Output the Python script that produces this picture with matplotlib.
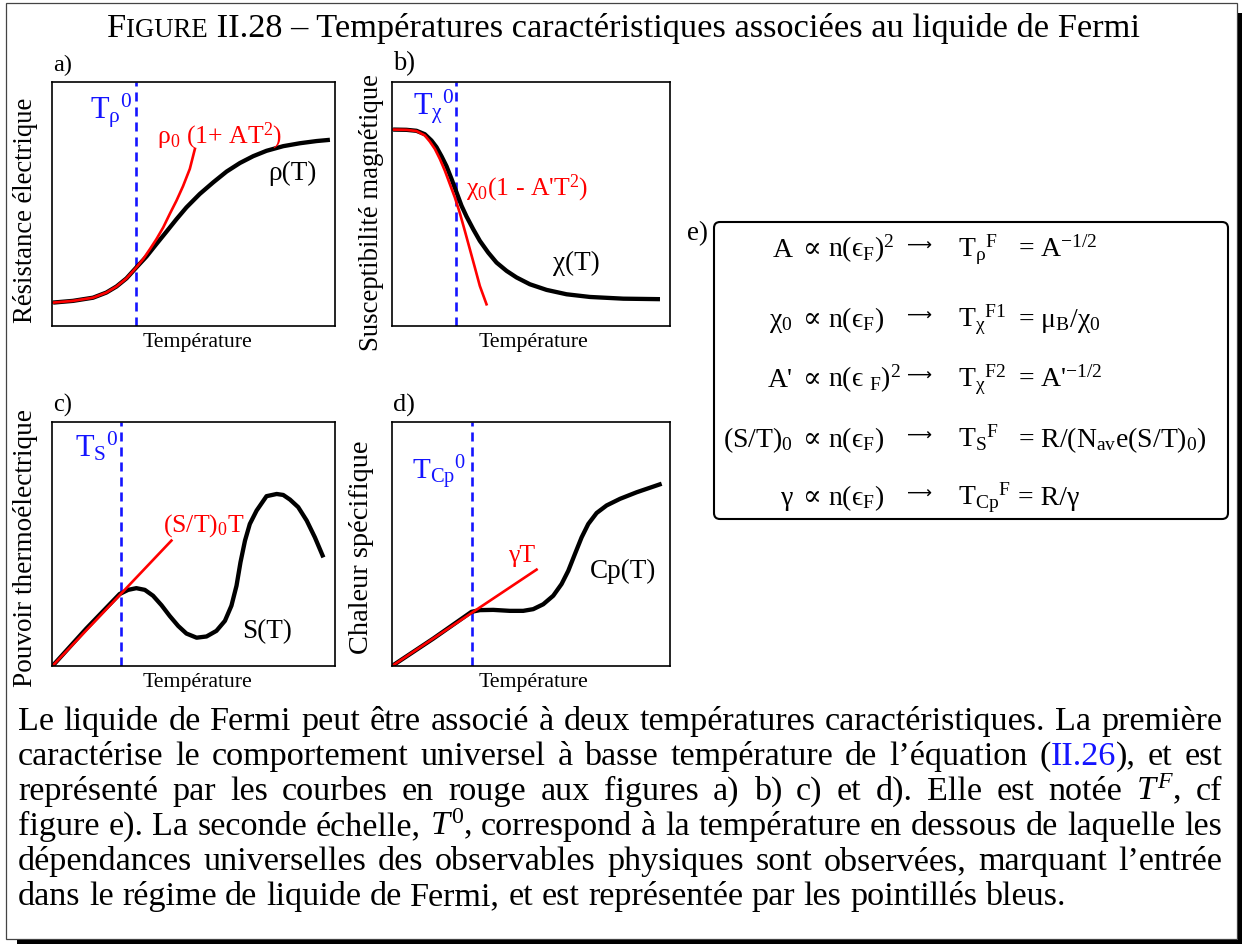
import matplotlib
matplotlib.use("Agg")
import matplotlib.pyplot as plt
import matplotlib.patches as mpatches
import matplotlib.transforms as mtransforms

plt.rcParams['font.family'] = ['Liberation Serif', 'DejaVu Serif']
plt.rcParams['mathtext.fontset'] = 'custom'
plt.rcParams['mathtext.rm'] = 'Liberation Serif'
plt.rcParams['mathtext.it'] = 'Liberation Serif:italic'
plt.rcParams['mathtext.bf'] = 'Liberation Serif:bold'
plt.rcParams['mathtext.default'] = 'rm'
plt.rcParams['lines.scale_dashes'] = False

W, H = 1242, 945

# a) resistance
rho_T = [0.04, 0.74, 1.45, 1.92, 2.28, 2.63, 2.98, 3.34, 3.69, 4.04, 4.40, 4.75, 5.22, 5.70, 6.17, 6.64,
         7.11, 7.58, 8.17, 8.76, 9.35, 9.82]
rho_val = [0.96, 1.03, 1.16, 1.37, 1.62, 1.95, 2.40, 2.85, 3.36, 3.86, 4.38, 4.86, 5.41, 5.89, 6.33, 6.68,
           6.96, 7.18, 7.37, 7.49, 7.58, 7.63]
rho_fit_T = [0.04, 0.74, 1.45, 1.92, 2.28, 2.63, 2.98, 3.22, 3.46, 3.69, 3.93, 4.16, 4.40, 4.63, 4.87, 5.05]
rho_fit_val = [0.96, 1.03, 1.16, 1.37, 1.62, 1.95, 2.40, 2.74, 3.15, 3.56, 4.04, 4.59, 5.14, 5.73, 6.44, 7.26]
T0_rho = 2.98

# b) susceptibility
chi_T = [0.04, 0.52, 0.88, 1.18, 1.42, 1.60, 1.78, 1.96, 2.14, 2.32, 2.50, 2.68, 2.92, 3.16, 3.46, 3.76,
         4.12, 4.48, 4.96, 5.56, 6.28, 7.12, 8.32, 9.64]
chi_val = [8.05, 8.04, 8.00, 7.86, 7.60, 7.33, 6.96, 6.55, 6.03, 5.48, 4.93, 4.49, 3.97, 3.49, 3.01, 2.60,
           2.26, 1.99, 1.71, 1.48, 1.30, 1.19, 1.12, 1.10]
chi_fit_T = [0.04, 0.52, 0.88, 1.18, 1.36, 1.54, 1.72, 1.90, 2.08, 2.26, 2.44, 2.62, 2.80, 2.98, 3.16, 3.40]
chi_fit_val = [8.05, 8.04, 7.99, 7.81, 7.56, 7.26, 6.85, 6.37, 5.82, 5.27, 4.63, 3.90, 3.15, 2.40, 1.64, 0.89]
T0_chi = 2.29

# c) thermopower
S_T = [0.04, 1.21, 2.39, 2.69, 2.98, 3.28, 3.57, 3.87, 4.16, 4.46, 4.75, 5.11, 5.46, 5.81, 6.11, 6.34,
       6.52, 6.66, 6.82, 6.99, 7.23, 7.58, 7.94, 8.17, 8.41, 8.70, 9.00, 9.29, 9.59]
S_val = [0.03, 1.53, 2.95, 3.12, 3.19, 3.12, 2.88, 2.49, 2.05, 1.64, 1.33, 1.16, 1.21, 1.44, 1.85, 2.47,
         3.29, 4.25, 5.14, 5.82, 6.37, 6.96, 7.05, 7.01, 6.82, 6.51, 5.96, 5.27, 4.45]
S_fit_T = [0.04, 4.22]
S_fit_val = [0.03, 5.14]
T0_S = 2.45

# d) specific heat
Cp_T = [0.04, 1.48, 2.86, 3.16, 3.64, 4.24, 4.72, 5.08, 5.44, 5.80, 6.10, 6.34, 6.58, 6.82, 7.06, 7.36,
        7.72, 8.20, 8.80, 9.70]
Cp_val = [0.03, 1.12, 2.22, 2.29, 2.30, 2.26, 2.26, 2.33, 2.53, 2.88, 3.36, 3.90, 4.59, 5.27, 5.82, 6.27,
          6.58, 6.85, 7.12, 7.47]
Cp_fit_T = [0.04, 5.2]
Cp_fit_val = [0.03, 3.95]
T0_Cp = 2.86

BLUE = '#1414ff'
RED = '#ff0000'

fig = plt.figure(figsize=(W / 100, H / 100), dpi=100)
renderer = fig.canvas.get_renderer()
px = mtransforms.Affine2D().scale(1 / 100) + fig.dpi_scale_trans


def put(x, y, s, size=10, width=None, ha='left', va='baseline', color='black', rot=0, **kw):
    t = fig.text(x / W, 1 - y / H, s, fontsize=size, ha=ha, va=va, color=color, **kw)
    if width:
        w = t.get_window_extent(renderer).width
        t.set_fontsize(size * width / w)
    t.set_rotation(rot)
    return t


def tw(s, size, **kw):
    t = fig.text(0, 0, s, fontsize=size, **kw)
    w = t.get_window_extent(renderer).width
    t.remove()
    return w


# outer frame with shadow
fig.patches.append(mpatches.Rectangle((6, H - 940), 1231, 936, transform=px, fill=False,
                                      lw=0.9, edgecolor='#444444'))
fig.patches.append(mpatches.Rectangle((1238, 0), 4, H - 14, transform=px, color='black', lw=0))
fig.patches.append(mpatches.Rectangle((17, 0), 1225, 4, transform=px, color='black', lw=0))

# title
tsize = 10
pieces = [("F", 1.0), ("IGURE", 0.78), (" II.28 – Températures caractéristiques associées au liquide de Fermi", 1.0)]
total = sum(tw(p, tsize * f) for p, f in pieces)
tsize = tsize * 1030 / total
x = 107
for p, f in pieces:
    put(x, 37, p, size=tsize * f)
    x += tw(p, tsize * f)

# panels
panels = [
    ([52, 83, 283, 244], rho_T, rho_val, rho_fit_T, rho_fit_val, T0_rho),
    ([392, 83, 278, 244], chi_T, chi_val, chi_fit_T, chi_fit_val, T0_chi),
    ([52, 423, 283, 244], S_T, S_val, S_fit_T, S_fit_val, T0_S),
    ([392, 423, 278, 244], Cp_T, Cp_val, Cp_fit_T, Cp_fit_val, T0_Cp),
]
for (l, t, w, h), xs, ys, fx, fyv, t0 in panels:
    ax = fig.add_axes([l / W, 1 - (t + h) / H, w / W, h / H])
    ax.set_xlim(0, 10)
    ax.set_ylim(0, 10)
    ax.set_xticks([])
    ax.set_yticks([])
    for sp in ax.spines.values():
        sp.set_linewidth(1.2)
    ax.axvline(t0, color=BLUE, lw=1.9, dashes=(6.5, 4.3))
    ax.plot(xs, ys, color='black', lw=3.1, solid_capstyle='butt', solid_joinstyle='round')
    ax.plot(fx, fyv, color=RED, lw=1.9, solid_joinstyle='round')

# panel letters
put(53, 71, "a)", width=19)
put(393, 70, "b)", width=22)
put(53, 412, "c)", width=19)
put(393, 412, "d)", width=22)
put(687, 240, "e)", width=21)

# axis labels
ylabels = [("Résistance électrique", 26, 210, 225), ("Susceptibilité magnétique", 372, 213, 277),
           ("Pouvoir thermoélectrique", 26, 548, 277), ("Chaleur spécifique", 362, 547, 213)]
for s, xc, yc, L in ylabels:
    put(xc, yc, s, width=L, ha='center', va='center', rot=90, rotation_mode='anchor')
for xc, yc in [(197, 342), (533, 342), (197, 683), (533, 683)]:
    put(xc, yc, "Température", width=109, ha='center', va='center')

# curve annotations
put(90, 118, r'T$_{ρ}{}^{0}$', size=22, color=BLUE)
put(157, 143, r'ρ$_{0}$ (1+ AT$^{2}$)', size=18.5, color=RED)
put(268, 180, 'ρ(T)', size=19.5)
put(413, 115, r'T$_{χ}{}^{0}$', size=22, color=BLUE)
put(466, 195, r"χ$_{0}$(1 - A'T$^{2}$)", size=18.5, color=RED)
put(553, 270, 'χ(T)', size=19.5)
put(75, 457, r'T$_{S}{}^{0}$', size=22, color=BLUE)
put(163, 532, r'(S/T)$_{0}$T', size=18.5, color=RED)
put(242, 638, 'S(T)', size=19.5)
put(412, 480, r'T$_{Cp}{}^{0}$', size=21, color=BLUE)
put(508, 562, 'γT', size=18.5, color=RED)
put(590, 578, 'Cp(T)', size=19.5)

# box e
fig.patches.append(mpatches.FancyBboxPatch((714, H - 520), 514, 297, transform=px,
                                           boxstyle='round,pad=0,rounding_size=6',
                                           fill=False, lw=1.5, edgecolor='black'))
es = 20
rows = [
    (257, 'A', r'n(ϵ$_{F}$)$^{2}$', r'T$_{ρ}{}^{F}$', r'= A$^{-1/2}$'),
    (327, r'χ$_{0}$', r'n(ϵ$_{F}$)', r'T$_{χ}{}^{F1}$', r'= μ$_{B}$/χ$_{0}$'),
    (387, "A'", r'n(ϵ $_{F}$)$^{2}$', r'T$_{χ}{}^{F2}$', r"= A'$^{-1/2}$"),
    (447, r'(S/T)$_{0}$', r'n(ϵ$_{F}$)', r'T$_{S}{}^{F}$', r'= R/(N$_{av}$e(S/T)$_{0}$)'),
    (505, 'γ', r'n(ϵ$_{F}$)', r'T$_{Cp}{}^{F}$', r'= R/γ'),
]
for yb, left, mid, tf, rhs in rows:
    put(793, yb, left, size=es, ha='right')
    put(812, yb, '∝', size=es, ha='center')
    put(828, yb, mid, size=es)
    put(907, yb - 6, '⟶', width=25, family=['DejaVu Sans'])
    put(958, yb, tf, size=es)
    put(1018, yb, rhs, size=es)

# caption, justified
lines = [
    ["Le liquide de Fermi peut être associé à deux températures caractéristiques. La première"],
    ["caractérise le comportement universel à basse température de l’équation ", [("(", 'k'), ("II.26", BLUE), ("),", 'k')], " et est"],
    ["représenté par les courbes en rouge aux figures a) b) c) et d). Elle est notée ", [(r'$\mathit{T}^{\mathit{F}}$,', 'k')], " cf"],
    ["figure e). La seconde échelle, ", [(r'$\mathit{T}^{0}$,', 'k')], " correspond à la température en dessous de laquelle les"],
    ["dépendances universelles des observables physiques sont observées, marquant l’entrée"],
    ["dans le régime de liquide de Fermi, et est représentée par les pointillés bleus."],
]
x_left, x_right = 18, 1222


def split_words(parts):
    words = []
    for part in parts:
        if isinstance(part, str):
            words += [[(wd, 'k')] for wd in part.split()]
        else:
            words.append(part)
    return words


# font size so that the fullest line just fits with normal spacing
sizes = []
for parts in lines[:5]:
    words = split_words(parts)
    nat = sum(tw(s, 10) for wd in words for s, c in wd) + (len(words) - 1) * (tw("a b", 10) - tw("ab", 10))
    sizes.append(10 * (x_right - x_left) / nat)
csize = min(sizes)
space = tw("a b", csize) - tw("ab", csize)

for i, parts in enumerate(lines):
    words = split_words(parts)
    widths = [sum(tw(s, csize) for s, c in wd) for wd in words]
    if i < 5:
        gap = (x_right - x_left - sum(widths)) / (len(words) - 1)
    else:
        gap = space
    x = x_left
    yb = 730 + 35 * i
    for wd, wdt in zip(words, widths):
        xx = x
        for s, c in wd:
            put(xx, yb, s, size=csize, color=c)
            xx += tw(s, csize)
        x += wdt + gap

fig.savefig("out.png", dpi=100)
